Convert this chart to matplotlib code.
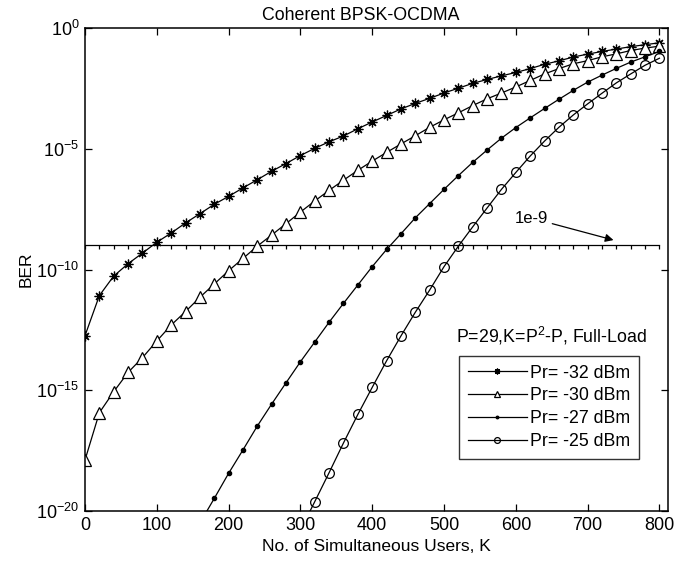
import numpy as np
import matplotlib
matplotlib.use("Agg")
import matplotlib.pyplot as plt

plt.rcParams['font.family'] = ['Liberation Sans', 'DejaVu Sans']
plt.rcParams['mathtext.fontset'] = 'custom'
plt.rcParams['mathtext.rm'] = 'Liberation Sans'
plt.rcParams['mathtext.it'] = 'Liberation Sans:italic'
plt.rcParams['mathtext.bf'] = 'Liberation Sans:bold'

# ---- data (log10 of BER) ----
k_all = list(range(0, 801, 20))
log_ber_32 = [-12.74, -11.08, -10.27, -9.76, -9.32, -8.87, -8.49, -8.07, -7.69, -7.30,
              -6.97, -6.62, -6.28, -5.93, -5.61, -5.28, -4.98, -4.71, -4.47, -4.17,
              -3.89, -3.62, -3.35, -3.12, -2.91, -2.69, -2.49, -2.29, -2.13, -1.98,
              -1.84, -1.68, -1.50, -1.36, -1.20, -1.08, -0.97, -0.87, -0.77, -0.69, -0.61]
log_ber_30 = [-17.89, -15.93, -15.06, -14.26, -13.65, -12.96, -12.30, -11.74, -11.15, -10.60,
              -10.05, -9.54, -9.03, -8.57, -8.10, -7.62, -7.16, -6.72, -6.30, -5.89,
              -5.51, -5.15, -4.80, -4.46, -4.11, -3.80, -3.51, -3.21, -2.93, -2.69,
              -2.44, -2.17, -1.90, -1.68, -1.48, -1.35, -1.19, -1.07, -0.93, -0.83, -0.75]
k_27 = list(range(160, 801, 20))
log_ber_27 = [-20.5, -19.48, -18.44, -17.47, -16.48, -15.57, -14.69, -13.82, -13.00, -12.18,
              -11.40, -10.64, -9.88, -9.17, -8.52, -7.86, -7.27, -6.68, -6.11, -5.56,
              -5.05, -4.56, -4.12, -3.72, -3.33, -2.95, -2.58, -2.24, -1.95, -1.67,
              -1.41, -1.19, -0.97]
k_25 = list(range(300, 801, 20))
log_ber_25 = [-20.8, -19.61, -18.41, -17.18, -16.00, -14.88, -13.78, -12.75, -11.77, -10.85,
              -9.88, -9.03, -8.23, -7.45, -6.68, -5.98, -5.30, -4.68, -4.11, -3.60,
              -3.14, -2.70, -2.27, -1.90, -1.54, -1.25]
ber_target = 1e-9

labels = ['Pr= -32 dBm', 'Pr= -30 dBm', 'Pr= -27 dBm', 'Pr= -25 dBm']
xticks = [0, 100, 200, 300, 400, 500, 600, 700, 800]
yticks = [1e-20, 1e-15, 1e-10, 1e-5, 1e0]

fig = plt.figure(figsize=(6.81, 5.61), dpi=100)
ax = fig.add_axes([0.1248, 0.0891, 0.981 - 0.1248, 0.950 - 0.0891])

lw = 0.9
ax.plot(k_all, 10.0 ** np.array(log_ber_32), '-', color='k', lw=lw,
        marker=(8, 2, 0), markersize=7, markeredgewidth=0.9, label=labels[0])
ax.plot(k_all, 10.0 ** np.array(log_ber_30), '-', color='k', lw=lw,
        marker='^', markersize=8, markerfacecolor='white', markeredgewidth=0.9, label=labels[1])
ax.plot(k_27, 10.0 ** np.array(log_ber_27), '-', color='k', lw=lw,
        marker='.', markersize=6, label=labels[2])
ax.plot(k_25, 10.0 ** np.array(log_ber_25), '-', color='k', lw=lw,
        marker='o', markersize=7, markerfacecolor='none', markeredgewidth=0.9, label=labels[3])

# 1e-9 reference line with little ticks
ax.plot(k_all, [ber_target] * len(k_all), '-', color='k', lw=0.9,
        marker=3, markersize=3, markeredgewidth=0.9, zorder=1)

ax.set_yscale('log')
ax.set_xlim(0, 812)
ax.set_ylim(1e-20, 1e0)
ax.set_xticks(xticks)
ax.set_xticklabels([str(v) for v in xticks])
ax.set_yticks(yticks)
ax.set_yticklabels([r'$\mathregular{10^{%d}}$' % int(round(np.log10(v))) for v in yticks])
ax.yaxis.set_minor_locator(matplotlib.ticker.NullLocator())
ax.tick_params(which='both', direction='in', top=True, right=True, length=5, width=0.9,
               labelsize=13, pad=4)
for s in ax.spines.values():
    s.set_linewidth(1.1)

ax.set_xlabel('No. of Simultaneous Users, K', fontsize=12.5, labelpad=4)
ax.set_ylabel('BER', fontsize=12.5, labelpad=2)
ax.set_title('Coherent BPSK-OCDMA', fontsize=12.8, x=0.473, pad=6)

ax.annotate('1e-9', xy=(736, 10 ** -8.78), xytext=(645, 10 ** -7.87),
            fontsize=12, ha='right', va='center',
            arrowprops=dict(arrowstyle='-|>', color='k', lw=0.9, mutation_scale=12,
                            shrinkA=1, shrinkB=0))

ax.text(0.8, 0.362, r'P=29,K=P$^\mathregular{2}$-P, Full-Load', transform=ax.transAxes,
        fontsize=12.8, ha='center', va='center')

leg = ax.legend(loc='lower left', bbox_to_anchor=(0.6415, 0.1077), frameon=True,
                fancybox=False, edgecolor='k', fontsize=12.8, handlelength=3.3,
                handletextpad=0.2, labelspacing=0.33, borderpad=0.5, borderaxespad=0,
                markerscale=0.6)
leg.get_frame().set_linewidth(1.0)

fig.savefig('out.png', dpi=100)
